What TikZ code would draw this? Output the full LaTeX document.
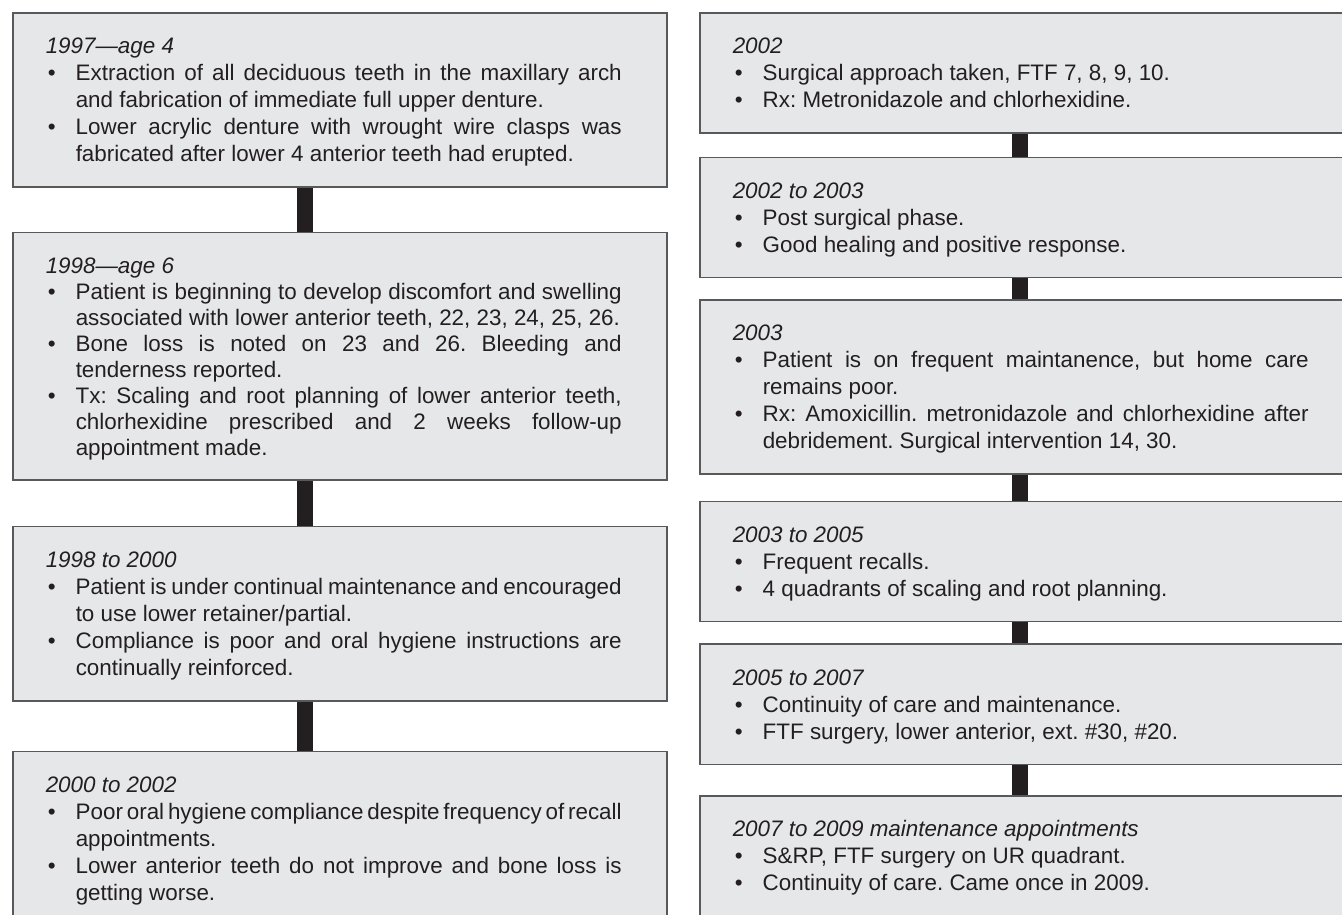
\documentclass[tikz,border=0pt]{standalone}
\usepackage{fontspec}
\setmainfont{Liberation Sans}
\usetikzlibrary{positioning}
\definecolor{boxfill}{HTML}{E6E7E8}
\definecolor{boxline}{HTML}{58595B}
\definecolor{ink}{HTML}{231F20}
\newcommand{\rok}[1]{\noindent\rule{0pt}{24pt}\textit{#1}\par}
\newcommand{\bod}[1]{\hangindent=30pt\hangafter=1\noindent\hbox to 30pt{\hspace{2pt}\textbullet\hfil}#1\strut\par}
\begin{document}
\begin{tikzpicture}[x=1pt, y=1pt]
	\tikzstyle{obdobi} = [rectangle, draw=boxline, line width=1.5pt, fill=boxfill, text=ink, text width=588pt, inner xsep=33pt, inner ysep=17pt, align=justify, font=\fontsize{22.4}{27}\selectfont, execute at begin node={\rightskip=12pt\relax\parskip=0pt\relax\spaceskip=6.23pt plus 6.7pt minus 2.7pt\relax\frenchspacing\hyphenpenalty=10000\exhyphenpenalty=10000\tolerance=10000\relax}]
	\tikzstyle{spoj} = [draw=ink, line width=16pt]
	
	\useasboundingbox (0,0) rectangle (1342,-914);
	\clip (0,0) rectangle (1342,-914);
	
	\node (y1997) [obdobi, anchor=north west] at (12,-12) {\rok{1997—age 4}
		\bod{Extraction of all deciduous teeth in the maxillary arch\linebreak and fabrication of immediate full upper denture.}
		\bod{Lower acrylic denture with wrought wire clasps was\linebreak fabricated after lower 4 anterior teeth had erupted.}};
	\node (y1998) [obdobi, font=\fontsize{22.4}{26}\selectfont, below=44pt of y1997] {\rok{1998—age 6}
		\bod{Patient is beginning to develop discomfort and swelling\linebreak associated with lower anterior teeth, 22, 23, 24, 25, 26.}
		\bod{Bone loss is noted on 23 and 26. Bleeding and\linebreak tenderness reported.}
		\bod{Tx: Scaling and root planning of lower anterior teeth,\linebreak chlorhexidine prescribed and 2 weeks follow-up\linebreak appointment made.}};
	\node (y1998b) [obdobi, below=45pt of y1998] {\rok{1998 to 2000}
		\bod{Patient is under continual maintenance and encouraged\linebreak to use lower retainer/partial.}
		\bod{Compliance is poor and oral hygiene instructions are\linebreak continually reinforced.}};
	\node (y2000) [obdobi, below=49pt of y1998b] {\rok{2000 to 2002}
		\bod{Poor oral hygiene compliance despite frequency of recall\linebreak appointments.}
		\bod{Lower anterior teeth do not improve and bone loss is\linebreak getting worse.}};
	
	\node (y2002) [obdobi, anchor=north west] at (699,-12) {\rok{2002}
		\bod{Surgical approach taken, FTF 7, 8, 9, 10.}
		\bod{Rx: Metronidazole and chlorhexidine.}};
	\node (y2002b) [obdobi, below=23pt of y2002] {\rok{2002 to 2003}
		\bod{Post surgical phase.}
		\bod{Good healing and positive response.}};
	\node (y2003) [obdobi, below=21pt of y2002b] {\rok{2003}
		\bod{Patient is on frequent maintanence, but home care\linebreak remains poor.}
		\bod{Rx: Amoxicillin. metronidazole and chlorhexidine after\linebreak debridement. Surgical intervention 14, 30.}};
	\node (y2003b) [obdobi, below=26pt of y2003] {\rok{2003 to 2005}
		\bod{Frequent recalls.}
		\bod{4 quadrants of scaling and root planning.}};
	\node (y2005) [obdobi, below=21pt of y2003b] {\rok{2005 to 2007}
		\bod{Continuity of care and maintenance.}
		\bod{FTF surgery, lower anterior, ext. \#30, \#20.}};
	\node (y2007) [obdobi, below=30pt of y2005] {\rok{2007 to 2009 maintenance appointments}
		\bod{S\&RP, FTF surgery on UR quadrant.}
		\bod{Continuity of care. Came once in 2009.}};
	
	\draw [spoj] ([xshift=-35pt]y1997.south) -- ([xshift=-35pt]y1998.north);
	\draw [spoj] ([xshift=-35pt]y1998.south) -- ([xshift=-35pt]y1998b.north);
	\draw [spoj] ([xshift=-35pt]y1998b.south) -- ([xshift=-35pt]y2000.north);
	\draw [spoj] ([xshift=-7pt]y2002.south) -- ([xshift=-7pt]y2002b.north);
	\draw [spoj] ([xshift=-7pt]y2002b.south) -- ([xshift=-7pt]y2003.north);
	\draw [spoj] ([xshift=-7pt]y2003.south) -- ([xshift=-7pt]y2003b.north);
	\draw [spoj] ([xshift=-7pt]y2003b.south) -- ([xshift=-7pt]y2005.north);
	\draw [spoj] ([xshift=-7pt]y2005.south) -- ([xshift=-7pt]y2007.north);
\end{tikzpicture}
\end{document}
